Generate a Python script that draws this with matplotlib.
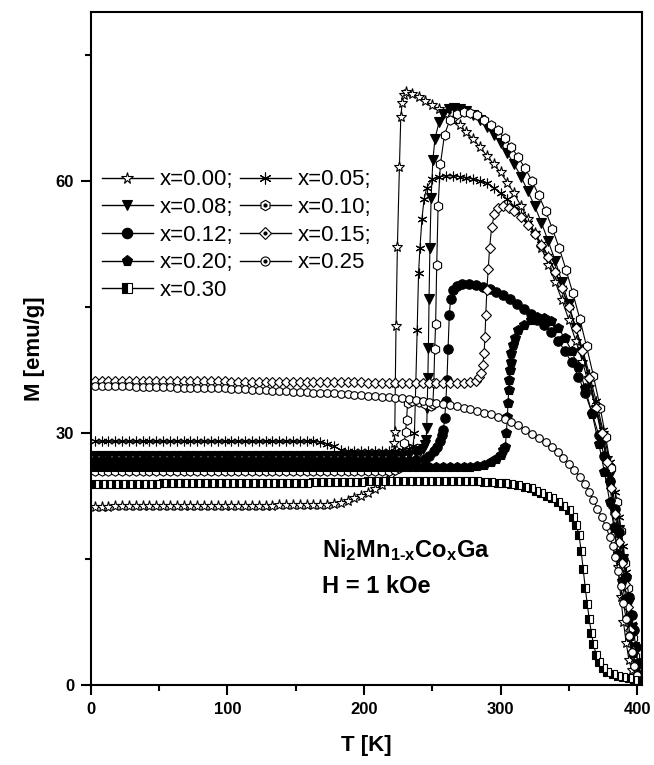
import matplotlib
matplotlib.use('Agg')
import matplotlib.pyplot as plt
from matplotlib.lines import Line2D
from matplotlib.legend_handler import HandlerTuple

plt.rcParams['font.family'] = ['Liberation Sans', 'DejaVu Sans']
plt.rcParams['mathtext.fontset'] = 'custom'
plt.rcParams['mathtext.rm'] = 'Liberation Sans:bold'
plt.rcParams['mathtext.it'] = 'Liberation Sans:bold'
plt.rcParams['mathtext.bf'] = 'Liberation Sans:bold'
plt.rcParams['mathtext.default'] = 'rm'

# ---------------- data ----------------
# x = 0.00
T000 = list(range(3, 218, 5)) + [217, 220, 221, 222, 222.3, 222.6, 223, 223.5, 224.5, 226,
        227, 228, 229, 231, 235, 240, 245, 250, 255, 260,
        265, 270, 275, 280, 285, 290, 295, 300, 305, 310,
        315, 320, 325, 330, 335, 340, 345, 350, 355, 360,
        365, 370, 375, 378, 380, 382, 384, 386, 388, 390,
        392, 394, 396, 398, 400]
M000 = [21.2, 21.2, 21.2, 21.3, 21.3, 21.3, 21.3, 21.3, 21.3, 21.3,
        21.3, 21.3, 21.3, 21.3, 21.3, 21.3, 21.3, 21.3, 21.3, 21.3,
        21.3, 21.3, 21.3, 21.3, 21.3, 21.3, 21.3, 21.4, 21.4, 21.4,
        21.4, 21.4, 21.4, 21.4, 21.4,
        21.5, 21.7, 21.9, 22.2, 22.5, 22.9, 23.3, 23.8,
        24.4, 25.0, 26.0, 27.7, 28.8, 30.1, 36.0, 42.7, 52.1, 61.7,
        67.6, 69.3, 70.2, 70.6, 70.4, 70.0, 69.5, 69.0, 68.5, 68.0,
        67.3, 66.6, 65.8, 65.0, 64.0, 63.0, 62.0, 61.0, 59.8, 58.5,
        57.0, 55.5, 53.8, 52.0, 50.0, 48.0, 45.8, 43.5, 41.0, 38.5,
        35.5, 33.0, 30.0, 27.0, 24.0, 21.0, 18.0, 14.0, 10.5, 7.5,
        5.0, 3.0, 1.8, 1.0, 0.6]

# x = 0.05
T005 = list(range(3, 233, 5)) + [233, 236, 237, 238, 239, 240, 241, 242.5, 244, 246,
        250, 255, 260, 265, 270, 275, 280, 285, 290, 295,
        300, 305, 310, 315, 320, 325, 330, 335, 340, 345,
        350, 355, 360, 365, 370, 375, 380, 384, 387, 390,
        392, 394, 396, 397.5, 399, 400.5, 402]
M005 = [29.0, 29.0, 29.0, 29.0, 29.0, 29.0, 29.0, 29.0, 29.0, 29.0,
        29.0, 29.0, 29.0, 29.0, 29.0, 29.0, 29.0, 29.0, 29.0, 29.0,
        29.0, 29.0, 29.0, 29.0, 29.0, 29.0, 29.0, 29.0, 29.0, 29.0,
        29.0, 29.0, 29.0,
        28.9, 28.7, 28.4, 28.0, 27.8,
        27.8, 27.8, 27.8, 27.8, 27.8, 27.9, 27.9, 28.0,
        28.1, 28.5, 30.0, 36.0, 42.3, 49.0, 52.0, 55.5, 57.8, 59.2,
        60.2, 60.5, 60.6, 60.6, 60.5, 60.4, 60.2, 60.0, 59.7, 59.2,
        58.5, 57.8, 57.0, 56.0, 55.0, 53.8, 52.5, 51.0, 49.2, 47.2,
        45.0, 42.5, 40.0, 37.0, 33.8, 30.3, 26.5, 23.0, 20.0, 16.5,
        13.5, 10.5, 7.2, 4.8, 2.8, 1.5, 0.8]

# x = 0.08
T008 = list(range(3, 243, 5)) + [241, 243, 244.5, 245.5, 246, 246.3, 246.8, 247.2, 247.7, 248.3,
        249.2, 250.5, 252, 255, 258, 262, 266, 270, 275, 280,
        285, 290, 295, 300, 305, 310, 315, 320, 325, 330,
        335, 340, 345, 350, 355, 360, 365, 370, 375, 380,
        384, 387, 390, 392, 394, 396, 397.5, 399, 400.5, 402]
M008 = [27.3, 27.3, 27.3, 27.3, 27.3, 27.3, 27.3, 27.3, 27.3, 27.3,
        27.3, 27.3, 27.3, 27.3, 27.3, 27.3, 27.3, 27.3, 27.3, 27.3,
        27.3, 27.3, 27.3, 27.3, 27.3, 27.3, 27.3, 27.3, 27.3, 27.3,
        27.3, 27.3, 27.3, 27.3, 27.3, 27.3, 27.3, 27.3, 27.3, 27.3,
        27.3, 27.3, 27.3, 27.3, 27.3, 27.3, 27.4, 27.6,
        27.8, 28.1, 28.6, 29.2, 30.6, 33.0, 36.5, 40.1, 46.0, 52.0,
        58.0, 62.5, 65.0, 67.0, 68.0, 68.5, 68.7, 68.6, 68.3, 67.8,
        67.2, 66.4, 65.5, 64.5, 63.3, 62.0, 60.5, 58.8, 57.0, 55.0,
        52.8, 50.5, 48.0, 45.3, 42.5, 39.5, 36.2, 32.7, 29.0, 25.0,
        21.5, 18.5, 15.0, 12.5, 9.8, 6.8, 4.5, 2.6, 1.4, 0.7]

# x = 0.10
T010 = list(range(3, 228, 5)) + [226, 228, 229.5, 230.5, 231.2, 232, 235, 240, 245, 249,
        250.5, 251.2, 251.8, 252.5, 253.3, 254.3, 256, 259, 263, 268,
        273, 278, 283, 288, 293, 298, 303, 308, 313, 318,
        323, 328, 333, 338, 343, 348, 353, 358, 363, 368,
        373, 377, 381, 385, 388, 391, 393, 395, 397, 398.5,
        400, 402]
M010 = [25.5, 25.5, 25.5, 25.5, 25.5, 25.5, 25.5, 25.5, 25.5, 25.5,
        25.5, 25.5, 25.5, 25.5, 25.5, 25.5, 25.5, 25.5, 25.5, 25.5,
        25.5, 25.5, 25.5, 25.5, 25.5, 25.5, 25.5, 25.5, 25.5, 25.5,
        25.5, 25.5, 25.5, 25.5, 25.5, 25.5, 25.5, 25.5, 25.5, 25.5,
        25.5, 25.5, 25.5, 25.5, 25.6,
        25.8, 26.5, 28.8, 30.1, 31.5, 33.6, 33.8, 33.7, 33.5, 33.2,
        33.5, 36.0, 40.0, 43.0, 50.0, 57.0, 62.0, 65.5, 67.3, 68.0,
        68.2, 68.1, 67.8, 67.3, 66.7, 66.0, 65.1, 64.0, 62.8, 61.5,
        60.0, 58.3, 56.4, 54.3, 52.0, 49.4, 46.6, 43.6, 40.3, 36.8,
        33.0, 29.5, 25.8, 21.8, 18.3, 14.5, 11.5, 8.5, 5.6, 3.5,
        2.0, 1.0]

# x = 0.12
T012 = list(range(3, 243, 5)) + [245, 248, 251, 253.5, 255.5, 257, 258.2, 259.2, 260, 260.8,
        261.6, 262.5, 263.5, 265, 268, 272, 277, 282, 287, 292,
        297, 302, 307, 312, 317, 322, 327, 332, 337, 342,
        347, 352, 357, 362, 367, 372, 376, 380, 384, 387,
        390, 392, 394, 396, 397.5, 399, 400.5, 402]
M012 = [26.6, 26.6, 26.6, 26.6, 26.6, 26.6, 26.6, 26.6, 26.6, 26.6,
        26.6, 26.6, 26.6, 26.6, 26.6, 26.6, 26.6, 26.6, 26.6, 26.6,
        26.6, 26.6, 26.6, 26.6, 26.6, 26.6, 26.6, 26.6, 26.6, 26.6,
        26.6, 26.6, 26.6, 26.6, 26.6, 26.6, 26.6, 26.6, 26.6, 26.6,
        26.6, 26.6, 26.6, 26.6, 26.6, 26.6, 26.7, 26.8,
        26.9, 27.3, 27.8, 28.3, 29.0, 29.7, 30.4, 31.8, 33.8, 36.3,
        40.0, 44.0, 46.0, 47.0, 47.5, 47.7, 47.7, 47.6, 47.4, 47.1,
        46.8, 46.4, 45.9, 45.4, 44.8, 44.2, 43.5, 42.8, 42.0, 41.0,
        39.8, 38.4, 36.7, 34.7, 32.4, 29.7, 27.2, 24.3, 21.0, 18.2,
        15.0, 12.8, 10.5, 8.3, 6.5, 4.5, 2.6, 1.2]

# x = 0.15
T015 = list(range(3, 283, 5)) + [282, 284.5, 286, 287, 288, 288.6, 289.2, 290, 291, 292,
        293.5, 295.5, 298, 302, 306, 310, 315, 320, 325, 330,
        335, 340, 345, 350, 355, 360, 365, 370, 374, 378,
        381, 384, 387, 389, 391, 393, 395, 397, 399, 401]
M015 = [36.2, 36.2, 36.2, 36.2, 36.2, 36.2, 36.2, 36.2, 36.2, 36.2,
        36.2, 36.2, 36.2, 36.2, 36.2, 36.2, 36.2, 36.2, 36.2, 36.2,
        36.1, 36.1, 36.1, 36.1, 36.1, 36.1, 36.1, 36.1, 36.1, 36.1,
        36.1, 36.1, 36.1, 36.1, 36.1, 36.1, 36.1, 36.1, 36.1, 36.1,
        36.0, 36.0, 36.0, 36.0, 36.0, 36.0, 36.0, 36.0, 36.0, 36.0,
        36.0, 36.0, 36.0, 36.0, 36.0, 36.1,
        36.2, 36.6, 37.1, 38.1, 39.5, 41.4, 44.0, 47.0, 49.5, 52.0,
        54.5, 56.0, 56.8, 57.0, 56.8, 56.4, 55.7, 54.8, 53.7, 52.4,
        50.9, 49.2, 47.2, 45.0, 42.5, 39.7, 36.5, 33.0, 30.0, 26.5,
        23.5, 20.3, 17.0, 14.5, 12.0, 9.3, 6.5, 4.0, 2.2, 1.0]

# x = 0.20
T020 = list(range(3, 298, 5)) + [297, 300, 302, 303.5, 304.3, 305, 305.5, 306, 306.5, 307,
        307.5, 308, 309, 310.5, 313, 317, 322, 327, 332, 337,
        342, 347, 352, 357, 362, 367, 372, 376, 380, 383,
        386, 389, 391, 393, 395, 397, 399, 401]
M020 = [26.0, 26.0, 26.0, 26.0, 26.0, 26.0, 26.0, 26.0, 26.0, 26.0,
        26.0, 26.0, 26.0, 26.0, 26.0, 26.0, 26.0, 26.0, 26.0, 26.0,
        26.0, 26.0, 26.0, 26.0, 26.0, 26.0, 26.0, 26.0, 26.0, 26.0,
        26.0, 26.0, 26.0, 26.0, 26.0, 26.0, 26.0, 26.0, 26.0, 26.0,
        26.0, 26.0, 26.0, 26.0, 26.0, 26.0, 26.0, 26.0, 26.0, 26.0,
        26.0, 26.0, 26.0, 26.0, 26.0, 26.0, 26.1, 26.2, 26.5,
        26.9, 27.4, 28.0, 28.3, 30.0, 31.9, 33.6, 35.1, 36.3, 37.5,
        38.5, 39.5, 40.5, 41.3, 42.2, 42.9, 43.4, 43.8, 43.7, 43.3,
        42.5, 41.3, 39.8, 37.8, 35.3, 32.3, 28.7, 25.4, 21.8, 18.8,
        15.6, 12.4, 10.2, 8.0, 5.8, 3.8, 2.2, 1.1]

# x = 0.25
T025 = list(range(3, 343, 5)) + [342, 346, 350, 354, 358, 362, 365, 368, 371, 374,
        377, 380, 382, 384, 386, 388, 390, 392, 394, 396,
        398, 400, 402]
M025 = [35.6, 35.6, 35.6, 35.6, 35.6, 35.6, 35.5, 35.5, 35.5, 35.5,
        35.5, 35.5, 35.4, 35.4, 35.4, 35.4, 35.3, 35.3, 35.3, 35.3,
        35.2, 35.2, 35.2, 35.1, 35.1, 35.1, 35.0, 35.0, 35.0, 34.9,
        34.9, 34.9, 34.8, 34.8, 34.7, 34.7, 34.6, 34.6, 34.5, 34.5,
        34.4, 34.4, 34.3, 34.3, 34.2, 34.1, 34.0, 33.9, 33.8, 33.7,
        33.6, 33.5, 33.3, 33.2, 33.0, 32.8, 32.6, 32.4, 32.2, 31.9,
        31.6, 31.3, 30.9, 30.4, 29.9, 29.4, 28.9, 28.3,
        27.7, 27.0, 26.3, 25.6, 24.8, 23.9, 23.0, 22.0, 21.0, 20.0,
        18.9, 17.6, 16.5, 15.2, 13.6, 11.8, 9.8, 7.8, 5.8, 3.9,
        2.3, 1.2, 0.6]

# x = 0.30
T030 = list(range(3, 303, 5)) + [303, 308, 313, 318, 322, 326, 330, 334, 338, 342,
        346, 350, 353, 355.5, 357.5, 359, 360.5, 362, 363.5, 365,
        366.5, 368, 370, 372, 375, 378, 382, 386, 390, 394,
        398, 402]
M030 = [23.9, 23.9, 23.9, 23.9, 23.9, 23.9, 23.9, 23.9, 23.9, 23.9,
        24.0, 24.0, 24.0, 24.0, 24.0, 24.0, 24.0, 24.0, 24.0, 24.0,
        24.1, 24.1, 24.1, 24.1, 24.1, 24.1, 24.1, 24.1, 24.1, 24.1,
        24.1, 24.1, 24.2, 24.2, 24.2, 24.2, 24.2, 24.2, 24.2, 24.2,
        24.3, 24.3, 24.3, 24.3, 24.3, 24.3, 24.3, 24.3, 24.3, 24.3,
        24.3, 24.3, 24.3, 24.3, 24.3, 24.3, 24.3, 24.2, 24.2, 24.1,
        24.0, 23.9, 23.8, 23.6, 23.4, 23.1, 22.8, 22.5, 22.2, 21.8,
        21.3, 20.8, 20.0, 19.0, 17.8, 16.0, 13.8, 11.6, 9.6, 7.8,
        6.2, 4.9, 3.6, 2.7, 2.0, 1.6, 1.3, 1.1, 0.9, 0.8,
        0.6, 0.5]

labels = ['x=0.00;', 'x=0.05;', 'x=0.08;', 'x=0.10;', 'x=0.12;',
          'x=0.15;', 'x=0.20;', 'x=0.25', 'x=0.30']
series_T = [T000, T005, T008, T010, T012, T015, T020, T025, T030]
series_M = [M000, M005, M008, M010, M012, M015, M020, M025, M030]
for t, m, l in zip(series_T, series_M, labels):
    assert len(t) == len(m), (l, len(t), len(m))

# ---------------- styles ----------------
styles = [
    dict(marker='*', mfc='white', ms=8.0, lms=8.5, dot=False),
    dict(marker=(6, 2, 0), mfc='k', ms=7.0, lms=8.5, dot=False),
    dict(marker='v', mfc='k', ms=6.8, lms=7.5, dot=False),
    dict(marker='h', mfc='white', ms=6.8, lms=7.5, dot=True),
    dict(marker='o', mfc='k', ms=6.8, lms=7.5, dot=False),
    dict(marker='D', mfc='white', ms=5.5, lms=6.5, dot=True),
    dict(marker='p', mfc='k', ms=7.0, lms=8.0, dot=False),
    dict(marker='o', mfc='white', ms=5.5, lms=6.5, dot=True),
    dict(marker='s', mfc='k', ms=6.0, lms=6.5, dot=False, fillstyle='left'),
]

fig = plt.figure(figsize=(6.54, 7.65), dpi=100)
ax = fig.add_axes([0.1387, 0.1046, 0.8430, 0.8797])

handles = []
for t, m, st in zip(series_T, series_M, styles):
    kw = dict(color='k', lw=0.8, marker=st['marker'], ms=st['ms'],
              mec='k', mew=0.8, mfc=st['mfc'])
    if 'fillstyle' in st:
        kw.update(fillstyle=st['fillstyle'], markerfacecoloralt='white')
    ax.plot(t, m, **kw)
    hkw = dict(kw)
    hkw['ms'] = st['lms']
    hkw['lw'] = 1.0
    h = Line2D([], [], **hkw)
    if st['dot']:
        h = (h, Line2D([], [], ls='none', marker='o', ms=2.0, color='k'))
    handles.append(h)

ax.set_xlim(0, 403.6)
ax.set_ylim(0, 80.1)
ax.set_xticks([0, 100, 200, 300, 400])
ax.set_xticks([50, 150, 250, 350], minor=True)
ax.set_yticks([0, 30, 60])
ax.set_yticks([15, 45, 75], minor=True)
ax.tick_params(which='major', direction='out', length=7, width=1.5,
               labelsize=12, pad=5)
ax.tick_params(which='minor', direction='out', length=4.5, width=1.5)
for lab in ax.get_xticklabels() + ax.get_yticklabels():
    lab.set_fontweight('bold')
for sp in ax.spines.values():
    sp.set_linewidth(1.5)

ax.set_xlabel('T [K]', fontsize=16, fontweight='bold', labelpad=13)
ax.set_ylabel('M [emu/g]', fontsize=16, fontweight='bold', labelpad=8)

order = [0, 2, 4, 6, 8, 1, 3, 5, 7]
ax.legend([handles[i] for i in order], [labels[i] for i in order],
          ncol=2, loc='upper left', bbox_to_anchor=(0.02, 0.766),
          frameon=False, fontsize=16, handlelength=2.3, handletextpad=0.3,
          columnspacing=0.3, labelspacing=0.3, borderpad=0,
          borderaxespad=0, handler_map={tuple: HandlerTuple(ndivide=1)})

ax.text(169, 15.2, r'Ni$_{2}$Mn$_{1\text{-}x}$Co$_{x}$Ga', fontsize=17,
        fontweight='bold', ha='left', va='baseline')
ax.text(169, 11.0, 'H = 1 kOe', fontsize=17, fontweight='bold',
        ha='left', va='baseline')

fig.savefig('out.png', dpi=100)
